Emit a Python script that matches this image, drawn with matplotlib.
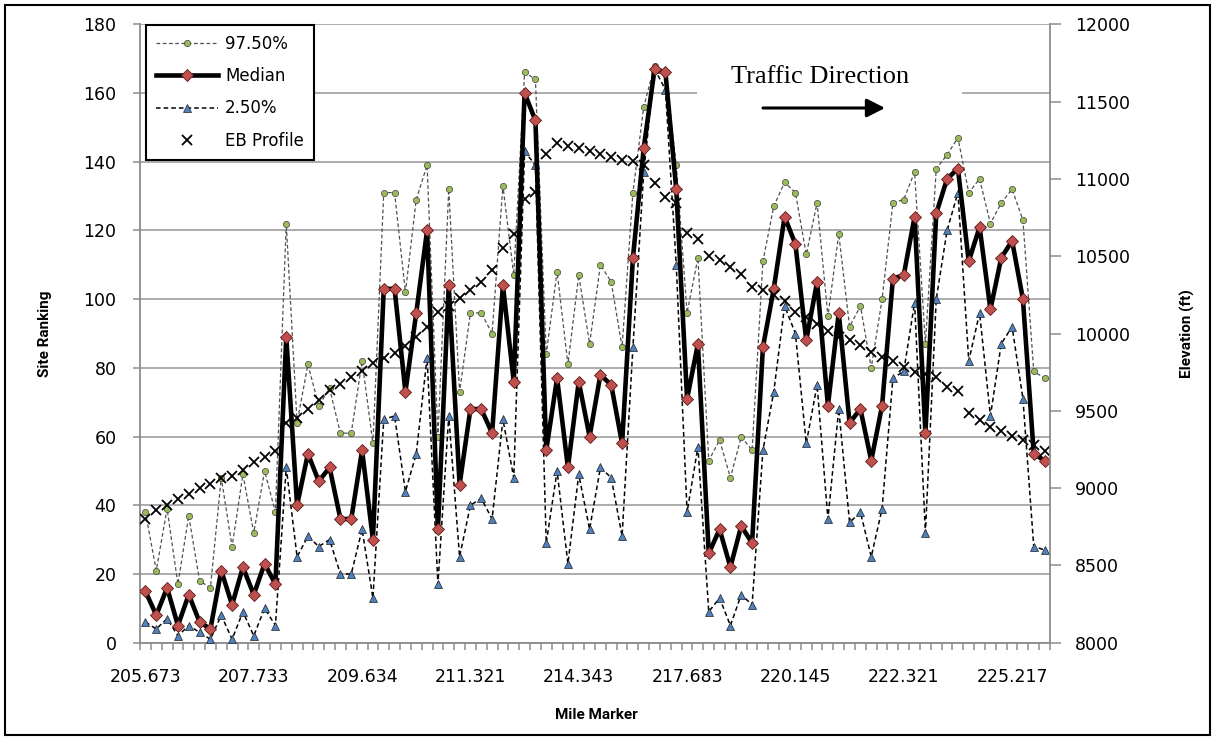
import matplotlib
matplotlib.use('Agg')
import matplotlib.pyplot as plt
from matplotlib.patches import Rectangle, FancyArrowPatch
import numpy as np

# mile marker labels shown every 10 sites
tick_labels = ['205.673', '207.733', '209.634', '211.321', '214.343',
               '217.683', '220.145', '222.321', '225.217']

upper = [38, 21, 39, 17, 37, 18, 16, 48, 28, 49, 32, 50, 38,
         122, 64, 81, 69, 74, 61, 61, 82, 58, 131, 131, 102, 129,
         139, 60, 132, 73, 96, 96, 90, 133, 107, 166, 164, 84, 108, 81, 107, 87, 110, 105, 86,
         131, 156, 168, 166, 139, 96, 112, 53, 59, 48, 60, 56,
         111, 127, 134, 131, 113, 128, 95, 119, 92, 98, 80, 100, 128, 129, 137, 87, 138,
         142, 147, 131, 135, 122, 128, 132, 123, 79, 77]

median = [15, 8, 16, 5, 14, 6, 4, 21, 11, 22, 14, 23, 17,
          89, 40, 55, 47, 51, 36, 36, 56, 30, 103, 103, 73, 96,
          120, 33, 104, 46, 68, 68, 61, 104, 76, 160, 152, 56, 77, 51, 76, 60, 78, 75, 58,
          112, 144, 167, 166, 132, 71, 87, 26, 33, 22, 34, 29,
          86, 103, 124, 116, 88, 105, 69, 96, 64, 68, 53, 69, 106, 107, 124, 61, 125,
          135, 138, 111, 121, 97, 112, 117, 100, 55, 53]

lower = [6, 4, 7, 2, 5, 3, 1, 8, 1, 9, 2, 10, 5,
         51, 25, 31, 28, 30, 20, 20, 33, 13, 65, 66, 44, 55,
         83, 17, 66, 25, 40, 42, 36, 65, 48, 143, 139, 29, 50, 23, 49, 33, 51, 48, 31,
         86, 137, 167, 161, 110, 38, 57, 9, 13, 5, 14, 11,
         56, 73, 98, 90, 58, 75, 36, 68, 35, 38, 25, 39, 77, 79, 99, 32, 100,
         120, 131, 82, 96, 66, 87, 92, 71, 28, 27]

eb_profile = [8799, 8861, 8889, 8928, 8962, 9001, 9024, 9063, 9080, 9120, 9170, 9198, 9243,
              9418, 9451, 9513, 9569, 9637, 9676, 9716, 9758, 9806, 9840, 9871, 9918, 9980,
              10040, 10138, 10180, 10228, 10284, 10335, 10413, 10551, 10644, 10869, 10917,
              11159, 11235, 11215, 11198, 11181, 11164, 11144, 11122, 11117, 11088, 10976,
              10883, 10847, 10649, 10610, 10503, 10475,
              10433, 10382, 10300, 10284, 10250, 10213, 10138, 10104, 10059, 10019, 9980,
              9955, 9926, 9879, 9848, 9823, 9786, 9752, 9738, 9716, 9651, 9626, 9485, 9442,
              9398, 9367, 9336, 9314, 9280, 9240]

W, H = 1214, 740
x = np.arange(len(median))
grey = '#8c8c8c'
label_font = ['Roboto', 'DejaVu Sans']

fig = plt.figure(figsize=(W / 100, H / 100), dpi=100)
ax = fig.add_axes([140 / W, 1 - 642.7 / H, 910 / W, 618.4 / H])
ax2 = ax.twinx()

l1, = ax.plot(x, upper, ls=(0, (3, 2)), color='#505050', lw=0.9, marker='o', ms=4.5,
              mfc='#9bbb59', mec='#404040', mew=0.5, label='97.50%', zorder=3)
l3, = ax.plot(x, lower, ls=(0, (3, 2)), color='black', lw=1.1, marker='^', ms=5.5,
              mfc='#4f81bd', mec='#1f1f1f', mew=0.5, label='2.50%', zorder=3)
l2, = ax.plot(x, median, color='black', lw=3.3, marker='D', ms=6.5,
              mfc='#c0504d', mec='#5a1a18', mew=0.6, label='Median', zorder=4)
l4, = ax2.plot(x, eb_profile, ls='none', marker='x', ms=7, mew=1.3, color='black',
               label='EB Profile')

ax.set_xlim(-0.5, len(median) - 0.5)
ax.set_ylim(0, 180)
ax2.set_ylim(8000, 12000)
ax.set_yticks(np.arange(0, 181, 20))
ax2.set_yticks(np.arange(8000, 12001, 500))
ax.set_xticks(np.arange(0, len(median), 10))
ax.set_xticklabels(tick_labels)
ax.set_xticks(np.arange(-0.5, len(median), 1), minor=True)

ax.yaxis.grid(True, color='#a6a6a6', lw=1.3)
ax.set_axisbelow(True)

ax.tick_params(axis='x', which='major', length=0, pad=18, labelsize=12.5)
ax.tick_params(axis='x', which='minor', length=5, color=grey, width=1.1)
ax.tick_params(axis='y', length=5, color=grey, width=1.1, pad=12, labelsize=12.5)
ax2.tick_params(axis='y', length=8, color=grey, width=1.1, pad=10, labelsize=12.5)

for s in ['top', 'right']:
    ax.spines[s].set_visible(False)
for s in ['top', 'left', 'bottom']:
    ax2.spines[s].set_visible(False)
for a, s in [(ax, 'left'), (ax, 'bottom'), (ax2, 'right')]:
    a.spines[s].set_color(grey)
    a.spines[s].set_linewidth(1.3)

ax.set_ylabel('Site Ranking', fontweight='bold', family=label_font, fontsize=11)
ax.yaxis.set_label_coords(-0.0967, 0.5)
ax2.set_ylabel('Elevation (ft)', fontweight='bold', family=label_font, fontsize=11,
               rotation=90)
ax2.yaxis.set_label_coords(1.143, 0.5)
ax.set_xlabel('Mile Marker', fontweight='bold', family=label_font, fontsize=11)
ax.xaxis.set_label_coords(0.502, -0.1056)

leg = ax2.legend(handles=[l1, l2, l3, l4], loc='upper left',
                 bbox_to_anchor=(146 / W, 1 - 25 / H), bbox_transform=fig.transFigure,
                 borderaxespad=0, fancybox=False, framealpha=1, edgecolor='black',
                 fontsize=12, handlelength=3.7, handletextpad=0.45, labelspacing=0.85,
                 borderpad=0.6)
leg.get_frame().set_linewidth(1.5)

# text box with the traffic direction arrow
fig.add_artist(Rectangle((697 / W, 1 - 125 / H), 265 / W, 80 / H, fc='white', ec='none',
                         transform=fig.transFigure, zorder=2))
fig.text(820 / W, 1 - 77 / H, 'Traffic Direction', family='Liberation Serif',
         fontsize=19, ha='center', va='center', zorder=3)
fig.add_artist(FancyArrowPatch((763 / W, 1 - 108 / H), (885 / W, 1 - 108 / H),
                               transform=fig.transFigure,
                               arrowstyle='-|>,head_length=0.55,head_width=0.28',
                               mutation_scale=20, lw=2.2, color='black',
                               shrinkA=0, shrinkB=0, zorder=4))

# outer chart border
fig.add_artist(Rectangle((5 / W, 5 / H), 1205 / W, 730 / H, fill=False, ec='black',
                         lw=1.5, transform=fig.transFigure, zorder=5))

fig.savefig('out.png', dpi=100)
